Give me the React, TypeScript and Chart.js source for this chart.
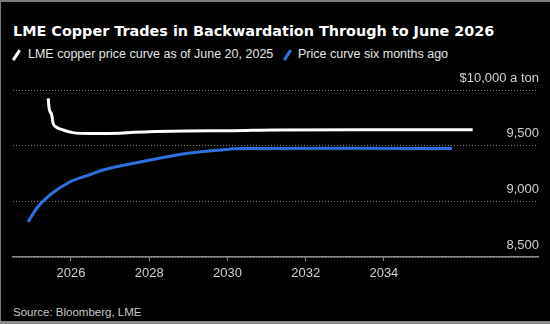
import React, { useEffect, useRef } from "react";
import { Chart, registerables } from "chart.js";

Chart.register(...registerables);

const titleText = "LME Copper Trades in Backwardation Through to June 2026";
const legendCurrent = "LME copper price curve as of June 20, 2025";
const legendPrior = "Price curve six months ago";
const sourceText = "Source: Bloomberg, LME";

// Current curve (decimal year, $/ton)
const currentYears = [2025.42, 2025.44, 2025.51, 2025.54, 2025.62, 2025.8, 2026.05, 2026.49, 2027.25, 2027.59, 2028.96, 2030.14, 2031.21, 2033.5, 2036.27];
const currentValues = [9925, 9838, 9775, 9704, 9668, 9641, 9617, 9609, 9611, 9620, 9632, 9634, 9641, 9642, 9642];

// Curve six months ago
const priorYears = [2024.9, 2025.13, 2025.46, 2025.97, 2026.49, 2026.82, 2027.25, 2028.02, 2028.86, 2029.73, 2030.32, 2033.0, 2035.74];
const priorValues = [8814, 8940, 9057, 9174, 9241, 9281, 9317, 9371, 9425, 9458, 9475, 9476, 9475];

const xTickYears = [2026, 2028, 2030, 2032, 2034];
const yTickValues = [8500, 9000, 9500, 10000];
const xMin = 2024.518;
const xMax = 2037.94;

const BLUE = "#2f6fdf";
const BORDER = "#7a7a7a";

export default function App() {
  const ref = useRef<HTMLCanvasElement>(null);

  useEffect(() => {
    document.body.style.margin = "0";
    document.body.style.background = "#000";
    const tickFont = { family: "'Liberation Sans', Arial, sans-serif", size: 13 };
    const chart = new Chart(ref.current as HTMLCanvasElement, {
      type: "line",
      data: {
        datasets: [
          {
            label: legendCurrent,
            data: currentYears.map((x, i) => ({ x, y: currentValues[i] })),
            borderColor: "#ffffff",
            borderWidth: 3,
            pointRadius: 0,
            cubicInterpolationMode: "monotone",
          },
          {
            label: legendPrior,
            data: priorYears.map((x, i) => ({ x, y: priorValues[i] })),
            borderColor: BLUE,
            borderWidth: 3,
            pointRadius: 0,
            cubicInterpolationMode: "monotone",
          },
        ],
      },
      options: {
        responsive: false,
        animation: false,
        layout: { padding: { left: 13, right: 12, top: 28, bottom: 0 } },
        plugins: { legend: { display: false }, tooltip: { enabled: false } },
        scales: {
          x: {
            type: "linear",
            min: xMin,
            max: xMax,
            afterBuildTicks: (s: any) => {
              s.ticks = xTickYears.map((v) => ({ value: v }));
            },
            afterFit: (s: any) => {
              s.height = 31;
            },
            grid: { drawOnChartArea: false, tickLength: 4, color: "#8a8a8a", lineWidth: 1 },
            border: { color: "#8a8a8a", width: 1.5 },
            ticks: {
              color: "#d0d0d0",
              font: tickFont,
              padding: 5,
              autoSkip: false,
              maxRotation: 0,
              callback: (v: any) => String(v),
            },
          },
          y: {
            position: "right",
            min: 8500,
            max: 10000,
            afterBuildTicks: (s: any) => {
              s.ticks = yTickValues.map((v) => ({ value: v }));
            },
            afterFit: (s: any) => {
              s.width = 0;
            },
            grid: { color: "#808080", lineWidth: 1, drawTicks: false },
            border: { display: false, dash: [1, 2] },
            ticks: {
              mirror: true,
              padding: 1,
              labelOffset: -12,
              color: "#d0d0d0",
              font: tickFont,
              callback: (v: any) =>
                Number(v) === 10000 ? "$10,000 a ton" : Number(v).toLocaleString("en-US"),
            },
          },
        },
      },
    });
    return () => chart.destroy();
  }, []);

  const slash = (left: number, color: string): React.CSSProperties => ({
    position: "absolute",
    left,
    top: 49,
    width: 2.6,
    height: 12,
    background: color,
    transform: "rotate(33deg)",
  });

  return (
    <div style={{ position: "relative", width: 550, height: 324, background: "#000", overflow: "hidden" }}>
      <div
        style={{
          position: "absolute",
          left: 13,
          top: 23.5,
          fontFamily: "'DejaVu Sans', sans-serif",
          fontWeight: 700,
          fontSize: 14.4,
          lineHeight: "14.4px",
          color: "#fff",
          whiteSpace: "nowrap",
        }}
      >
        {titleText}
      </div>
      <div style={slash(15, "#fff")} />
      <div
        style={{
          position: "absolute",
          left: 28,
          top: 48.4,
          fontFamily: "'Liberation Sans', Arial, sans-serif",
          fontSize: 12.5,
          lineHeight: "12.5px",
          color: "#e6e6e6",
          whiteSpace: "nowrap",
        }}
      >
        {legendCurrent}
      </div>
      <div style={slash(286.3, BLUE)} />
      <div
        style={{
          position: "absolute",
          left: 298,
          top: 48.4,
          fontFamily: "'Liberation Sans', Arial, sans-serif",
          fontSize: 12.5,
          lineHeight: "12.5px",
          color: "#e6e6e6",
          whiteSpace: "nowrap",
        }}
      >
        {legendPrior}
      </div>
      <canvas
        ref={ref}
        width={550}
        height={226}
        style={{ position: "absolute", left: 0, top: 62, width: 550, height: 226 }}
      />
      <div
        style={{
          position: "absolute",
          left: 13,
          top: 307,
          fontFamily: "'Liberation Sans', Arial, sans-serif",
          fontSize: 11.5,
          lineHeight: "11.5px",
          color: "#c8c8c8",
          whiteSpace: "nowrap",
        }}
      >
        {sourceText}
      </div>
      <div style={{ position: "absolute", left: 0, top: 0, width: 550, height: 2, background: BORDER }} />
      <div style={{ position: "absolute", left: 0, top: 0, width: 1, height: 324, background: BORDER }} />
      <div style={{ position: "absolute", left: 0, top: 321, width: 550, height: 3, background: "#8a8a8a" }} />
    </div>
  );
}
